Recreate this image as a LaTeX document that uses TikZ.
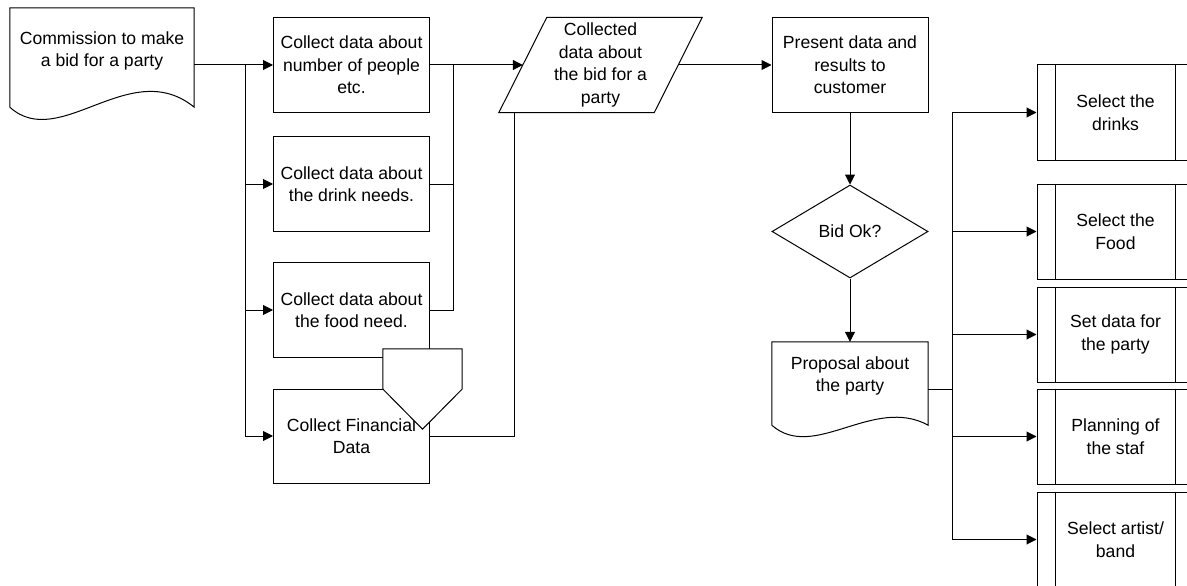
\documentclass[tikz,border=0pt]{standalone}
\usepackage{fontspec}
\setmainfont{Liberation Sans}
\usetikzlibrary{arrows.meta,calc,shapes.geometric}
\begin{document}
\begin{tikzpicture}[x=1pt,y=-1pt,
  every node/.style={font=\fontsize{17.6}{22.5}\selectfont, inner sep=0pt, align=center},
  line/.style={line width=1pt, line join=miter},
  arr/.style={line width=1pt, -{Triangle[length=10pt,width=10pt]}},
  box/.style={draw, line width=1pt, minimum width=156pt, minimum height=95pt},
  ghost/.style={draw=none},
  procbox/.style={draw, line width=1pt, minimum width=157pt, minimum height=95pt},
  decision/.style={draw, line width=1pt, diamond, aspect=1.68, minimum width=156pt, minimum height=93pt}
]
\useasboundingbox (0,0) rectangle (1187,586);
\clip (0,0) rectangle (1187,586);

% commission document
\node[ghost, minimum width=184pt, minimum height=114pt] (cm) at (102,65) {};
\draw[line] ($(cm.south west)+(0,-15)$) -- (cm.north west) -- (cm.north east) -- ($(cm.south east)+(0,-15)$)
  .. controls ($(cm.south east)+(-64,-67)$) and ($(cm.south west)+(50,30)$) .. ($(cm.south west)+(0,-15)$);
\node (cmt) at ($(cm.center)+(0,-14)$) {Commission to make\\a bid for a party};

% collect boxes
\node[box] (b1) at (351.5,65) {Collect data about\\number of people\\etc.};
\node[box] (b2) at (351.5,184) {Collect data about\\the drink needs.};
\node[box] (b3) at (351.5,310) {Collect data about\\the food need.};
\node[box, minimum height=94pt] (b4) at (351.5,436) {Collect Financial\\Data};

% parallelogram
\node[ghost, minimum width=155pt, minimum height=95pt] (pa) at (600.5,65) {};
\draw[line] ($(pa.north west)+(24,0)$) -- ($(pa.north east)+(24,0)$) -- ($(pa.south east)+(-24,0)$) -- ($(pa.south west)+(-24,0)$) -- cycle;
\node (pat) at (pa.center) {Collected\\data about\\the bid for a\\party};

% present box, decision, proposal
\node[box] (ps) at (850,65) {Present data and\\results to\\customer};
\node[decision] (dm) at (850,231.5) {Bid Ok?};
\node[ghost, minimum width=156pt, minimum height=94pt] (pr) at (850,389) {};
\draw[line] ($(pr.south west)+(0,-11)$) -- (pr.north west) -- (pr.north east) -- ($(pr.south east)+(0,-11)$)
  .. controls ($(pr.south east)+(-55,-41)$) and ($(pr.south west)+(42,26)$) .. ($(pr.south west)+(0,-11)$);
\node (prt) at ($(pr.center)+(0,-13)$) {Proposal about\\the party};

% predefined processes
\node[procbox] (s1) at (1115.5,112.5) {Select the\\drinks};
\node[procbox] (s2) at (1115.5,231.5) {Select the\\Food};
\node[procbox] (s3) at (1115.5,334.5) {Set data for\\the party};
\node[procbox] (s4) at (1115.5,436.5) {Planning of\\the staf};
\node[procbox] (s5) at (1115.5,539.5) {Select artist/\\band};
\foreach \n in {s1,s2,s3,s4,s5} {
  \draw[line] ($(\n.north west)+(19,0)$) -- ($(\n.south west)+(19,0)$);
  \draw[line] ($(\n.north east)+(-19,0)$) -- ($(\n.south east)+(-19,0)$);
}

% connectors left
\coordinate (jl) at (245,65);
\draw[line] (cm.east) -- (jl);
\draw[arr] (jl) -- (b1.west);
\draw[line] (jl) -- (jl |- b4.west);
\foreach \b in {b2,b3,b4} {\draw[arr] (jl |- \b.west) -- (\b.west);}
\coordinate (jm) at (453,65);
\draw[line] (b1.east) -- (jm);
\draw[arr] (jm) -- (pa.west);
\draw[line] (b2.east) -| (jm);
\draw[line] (b3.east) -| (jm);
\coordinate (pab) at ($(pa.south)+(-86.5,0)$);
\draw[line] (b4.east) -| (pab);

% connectors middle
\draw[arr] (pa.east) -- (ps.west);
\draw[arr] (ps.south) -- (dm.north);
\draw[arr] (dm.south) -- (pr.north);

% connectors right
\coordinate (jr) at (952,389);
\draw[line] (pr.east) -- (jr);
\draw[line] (jr |- s1.west) -- (jr |- s5.west);
\foreach \s in {s1,s2,s3,s4,s5} {\draw[arr] (jr |- \s.west) -- (\s.west);}

% off-page connector
\node[ghost, minimum width=79pt, minimum height=80pt] (op) at (422.5,389) {};
\draw[line, fill=white] (op.north west) -- (op.north east) -- (op.east) -- (op.south) -- (op.west) -- cycle;
\end{tikzpicture}
\end{document}
